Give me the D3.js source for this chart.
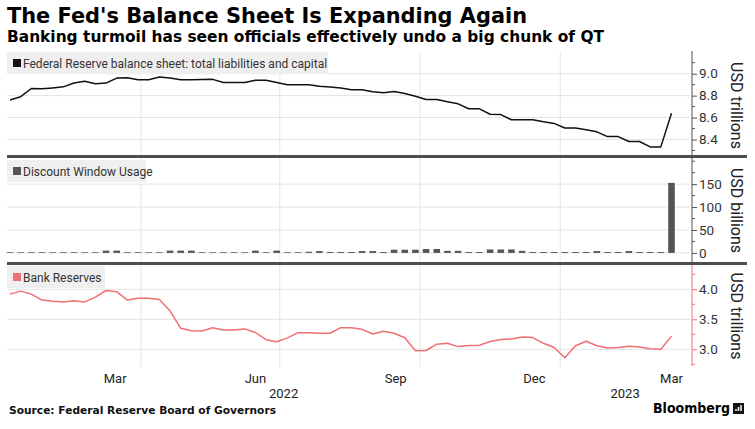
<!DOCTYPE html>
<html>
<head>
<meta charset="utf-8">
<script src="https://cdn.jsdelivr.net/npm/d3@7"></script>
<style>
  body { margin: 0; background: #fff; }
  svg { display: block; }
</style>
</head>
<body>
<svg></svg>
<script>
// weekly H.4.1 dates (Wednesdays)
const dates = [
  '2022-01-05','2022-01-12','2022-01-19','2022-01-26','2022-02-02','2022-02-09','2022-02-16','2022-02-23',
  '2022-03-02','2022-03-09','2022-03-16','2022-03-23','2022-03-30','2022-04-06','2022-04-13','2022-04-20',
  '2022-04-27','2022-05-04','2022-05-11','2022-05-18','2022-05-25','2022-06-01','2022-06-08','2022-06-15',
  '2022-06-22','2022-06-29','2022-07-06','2022-07-13','2022-07-20','2022-07-27','2022-08-03','2022-08-10',
  '2022-08-17','2022-08-24','2022-08-31','2022-09-07','2022-09-14','2022-09-21','2022-09-28','2022-10-05',
  '2022-10-12','2022-10-19','2022-10-26','2022-11-02','2022-11-09','2022-11-16','2022-11-23','2022-11-30',
  '2022-12-07','2022-12-14','2022-12-21','2022-12-28','2023-01-04','2023-01-11','2023-01-18','2023-01-25',
  '2023-02-01','2023-02-08','2023-02-15','2023-02-22','2023-03-01','2023-03-08','2023-03-15'
];

// USD trillions
const balanceSheet = [
  8.76, 8.79, 8.865, 8.862, 8.87, 8.88, 8.915, 8.93,
  8.908, 8.914, 8.96, 8.963, 8.945, 8.945, 8.97, 8.96,
  8.945, 8.945, 8.946, 8.948, 8.92, 8.92, 8.92, 8.94,
  8.94, 8.92, 8.90, 8.90, 8.90, 8.886, 8.878, 8.87,
  8.853, 8.853, 8.835, 8.826, 8.838, 8.82, 8.795, 8.764,
  8.764, 8.745, 8.725, 8.68, 8.68, 8.63, 8.627, 8.58,
  8.58, 8.58, 8.562, 8.547, 8.505, 8.505, 8.49, 8.47,
  8.427, 8.427, 8.382, 8.382, 8.333, 8.333, 8.64
];

// USD billions
const discountWindow = [
  1.5, 1.5, 1.5, 1.5, 1.5, 1.5, 1.5, 1.5,
  1.5, 5, 5, 1.5, 1.5, 1.5, 1.5, 5,
  5, 5, 1.5, 1.5, 1.5, 1.5, 1.5, 5,
  1.5, 5, 1.5, 1.5, 2.5, 4, 2, 2,
  2, 4, 4, 2, 7, 7, 7, 8.5,
  8.5, 4.5, 4.5, 2, 2, 7.5, 7.5, 7.5,
  4.5, 2, 2, 2, 2, 2, 2, 4,
  2, 2, 4, 2, 2, 2, 152.8
];

// USD trillions
const bankReserves = [
  3.92, 3.97, 3.92, 3.82, 3.80, 3.79, 3.81, 3.79,
  3.87, 3.98, 3.96, 3.82, 3.85, 3.85, 3.83, 3.64,
  3.35, 3.31, 3.305, 3.36, 3.32, 3.32, 3.34, 3.28,
  3.16, 3.127, 3.19, 3.277, 3.277, 3.267, 3.267, 3.36,
  3.36, 3.333, 3.255, 3.30, 3.267, 3.193, 2.975, 2.98,
  3.085, 3.10, 3.045, 3.065, 3.067, 3.13, 3.165, 3.172,
  3.205, 3.195, 3.10, 3.03, 2.86, 3.06, 3.135, 3.06,
  3.02, 3.03, 3.05, 3.04, 3.01, 3.00, 3.22
];

const balanceTicks = [8.4, 8.6, 8.8, 9.0];
const discountTicks = [0, 50, 100, 150];
const reserveTicks = [3.0, 3.5, 4.0];
const monthLabels = [
  ['2022-03-15', 'Mar'], ['2022-06-15', 'Jun'], ['2022-09-15', 'Sep'],
  ['2022-12-15', 'Dec'], ['2023-03-15', 'Mar']
];
const gridDates = ['2022-04-01', '2022-07-01', '2022-10-01', '2023-01-01'];

const width = 755;
const height = 429;
const left = 7;
const right = 690;
const font = 'Roboto, "Liberation Sans", sans-serif';

const parse = d3.timeParse('%Y-%m-%d');
const days = dates.map(parse);

const svg = d3.select('svg')
  .attr('width', width)
  .attr('height', height);

const xScale = d3.scaleTime()
  .domain([parse('2022-01-05'), parse('2023-03-15')])
  .range([10, 671.5]);

const panels = [
  {
    name: 'Federal Reserve balance sheet: total liabilities and capital',
    unit: 'USD trillions', color: '#111', axisColor: '#555',
    values: balanceSheet, ticks: balanceTicks, fmt: d3.format('.1f'),
    domain: [8.25, 9.17], top: 55, bottom: 156, axisTop: 51, minor: 0.1,
    legendY: 52, legendW: 321, type: 'line'
  },
  {
    name: 'Discount Window Usage',
    unit: 'USD billions', color: '#555', axisColor: '#555',
    values: discountWindow, ticks: discountTicks, fmt: d3.format('d'),
    domain: [-22, 207], top: 158, bottom: 263, axisTop: 158, minor: 25,
    legendY: 160, legendW: 139, type: 'bar'
  },
  {
    name: 'Bank Reserves',
    unit: 'USD trillions', color: '#ef6f73', axisColor: '#ef6f73',
    values: bankReserves, ticks: reserveTicks, fmt: d3.format('.1f'),
    domain: [2.705, 4.405], top: 265, bottom: 367, axisTop: 265, minor: 0.25,
    legendY: 266, legendW: 98, type: 'line'
  }
];

// titles
svg.append('text')
  .attr('x', 7).attr('y', 23)
  .attr('font-family', '"DejaVu Sans", sans-serif')
  .attr('font-weight', 'bold')
  .attr('font-size', 20.5)
  .attr('textLength', 520)
  .attr('lengthAdjust', 'spacingAndGlyphs')
  .attr('fill', '#000')
  .text("The Fed's Balance Sheet Is Expanding Again");

svg.append('text')
  .attr('x', 7).attr('y', 42)
  .attr('font-family', '"DejaVu Sans", sans-serif')
  .attr('font-weight', 'bold')
  .attr('font-size', 15.5)
  .attr('textLength', 597)
  .attr('lengthAdjust', 'spacingAndGlyphs')
  .attr('fill', '#000')
  .text('Banking turmoil has seen officials effectively undo a big chunk of QT');

// vertical grid
svg.append('g')
  .selectAll('line')
  .data(gridDates.map(parse))
  .enter()
  .append('line')
  .attr('x1', (d) => xScale(d))
  .attr('x2', (d) => xScale(d))
  .attr('y1', 52)
  .attr('y2', 367)
  .attr('stroke', '#e6e6e6')
  .attr('stroke-width', 1);

panels.forEach((p) => {
  const yScale = d3.scaleLinear().domain(p.domain).range([p.bottom, p.top]);
  const g = svg.append('g');

  // horizontal grid
  g.selectAll('line.grid')
    .data(p.ticks)
    .enter()
    .append('line')
    .attr('class', 'grid')
    .attr('x1', left)
    .attr('x2', right)
    .attr('y1', (d) => yScale(d))
    .attr('y2', (d) => yScale(d))
    .attr('stroke', '#e3e3e3');

  // legend
  g.append('rect')
    .attr('x', left).attr('y', p.legendY)
    .attr('width', p.legendW).attr('height', 22)
    .attr('fill', '#efefef');
  g.append('rect')
    .attr('x', left + 6).attr('y', p.legendY + 7)
    .attr('width', 8).attr('height', 8)
    .attr('fill', p.color);
  g.append('text')
    .attr('x', left + 16).attr('y', p.legendY + 15.5)
    .attr('font-family', font)
    .attr('font-size', 12)
    .attr('fill', '#333')
    .text(p.name);

  // marks
  if (p.type === 'line') {
    const line = d3.line()
      .x((d, i) => xScale(days[i]))
      .y((d) => yScale(d));
    g.append('path')
      .datum(p.values)
      .attr('d', line)
      .attr('fill', 'none')
      .attr('stroke', p.color)
      .attr('stroke-width', 1.5)
      .attr('stroke-linejoin', 'round');
  } else {
    const barW = 6.6;
    g.selectAll('rect.bar')
      .data(p.values)
      .enter()
      .append('rect')
      .attr('class', 'bar')
      .attr('x', (d, i) => xScale(days[i]) - barW / 2)
      .attr('y', (d) => yScale(d))
      .attr('width', barW)
      .attr('height', (d) => yScale(0) - yScale(d))
      .attr('fill', p.color);
  }

  // right axis
  const minorTicks = d3.range(p.domain[0], p.domain[1], p.minor)
    .map((v) => Math.ceil(p.domain[0] / p.minor) * p.minor + (v - p.domain[0]))
    .filter((v) => v < p.domain[1] && !p.ticks.some((t) => Math.abs(t - v) < 1e-6));

  const axis = d3.axisRight(yScale)
    .tickValues(p.ticks)
    .tickFormat(p.fmt)
    .tickSize(5)
    .tickPadding(2);
  const ax = g.append('g')
    .attr('transform', 'translate(' + (right + 2) + ',0)')
    .call(axis);
  ax.select('.domain').remove();
  ax.selectAll('.tick line').attr('stroke', p.axisColor);
  ax.selectAll('.tick text')
    .attr('font-family', font)
    .attr('font-size', 13.5)
    .attr('fill', '#333');

  g.selectAll('line.minor')
    .data(minorTicks)
    .enter()
    .append('line')
    .attr('class', 'minor')
    .attr('x1', right + 2).attr('x2', right + 5)
    .attr('y1', (d) => yScale(d)).attr('y2', (d) => yScale(d))
    .attr('stroke', p.axisColor);

  g.append('line')
    .attr('x1', right + 2).attr('x2', right + 2)
    .attr('y1', p.axisTop).attr('y2', p.bottom - 1)
    .attr('stroke', p.axisColor);

  // unit label
  const cy = (p.top + p.bottom) / 2;
  g.append('text')
    .attr('transform', 'translate(731,' + cy + ') rotate(90)')
    .attr('text-anchor', 'middle')
    .attr('font-family', font)
    .attr('font-size', 16)
    .attr('fill', '#222')
    .text(p.unit);
});

// panel separators
[156.5, 263.5].forEach((y) => {
  svg.append('line')
    .attr('x1', left).attr('x2', 747)
    .attr('y1', y).attr('y2', y)
    .attr('stroke', '#4d4d4d')
    .attr('stroke-width', 3);
});

// x labels
svg.append('g')
  .selectAll('text')
  .data(monthLabels)
  .enter()
  .append('text')
  .attr('x', (d) => xScale(parse(d[0])))
  .attr('y', 383)
  .attr('text-anchor', 'middle')
  .attr('font-family', font)
  .attr('font-size', 13)
  .attr('fill', '#222')
  .text((d) => d[1]);

const yearLabels = [
  ['2022', left, xScale(parse('2023-01-01'))],
  ['2023', xScale(parse('2023-01-01')), right]
];
svg.append('g')
  .selectAll('text')
  .data(yearLabels)
  .enter()
  .append('text')
  .attr('x', (d) => (d[1] + d[2]) / 2)
  .attr('y', 398)
  .attr('text-anchor', 'middle')
  .attr('font-family', font)
  .attr('font-size', 13)
  .attr('fill', '#222')
  .text((d) => d[0]);

// footer
svg.append('text')
  .attr('x', 9).attr('y', 414)
  .attr('font-family', '"DejaVu Sans", sans-serif')
  .attr('font-weight', 'bold')
  .attr('font-size', 11)
  .attr('textLength', 267)
  .attr('lengthAdjust', 'spacingAndGlyphs')
  .attr('fill', '#111')
  .text('Source: Federal Reserve Board of Governors');

svg.append('text')
  .attr('x', 653).attr('y', 413)
  .attr('font-family', '"DejaVu Sans", sans-serif')
  .attr('font-weight', 'bold')
  .attr('font-size', 14)
  .attr('textLength', 77)
  .attr('lengthAdjust', 'spacingAndGlyphs')
  .attr('fill', '#000')
  .text('Bloomberg');

svg.append('rect')
  .attr('x', 733).attr('y', 403)
  .attr('width', 11).attr('height', 11)
  .attr('fill', '#111');
svg.append('path')
  .attr('d', 'M736,411 L736,409 M738.5,411 L738.5,407 M741,411 L741,405')
  .attr('stroke', '#fff')
  .attr('stroke-width', 1.5);
</script>
</body>
</html>
